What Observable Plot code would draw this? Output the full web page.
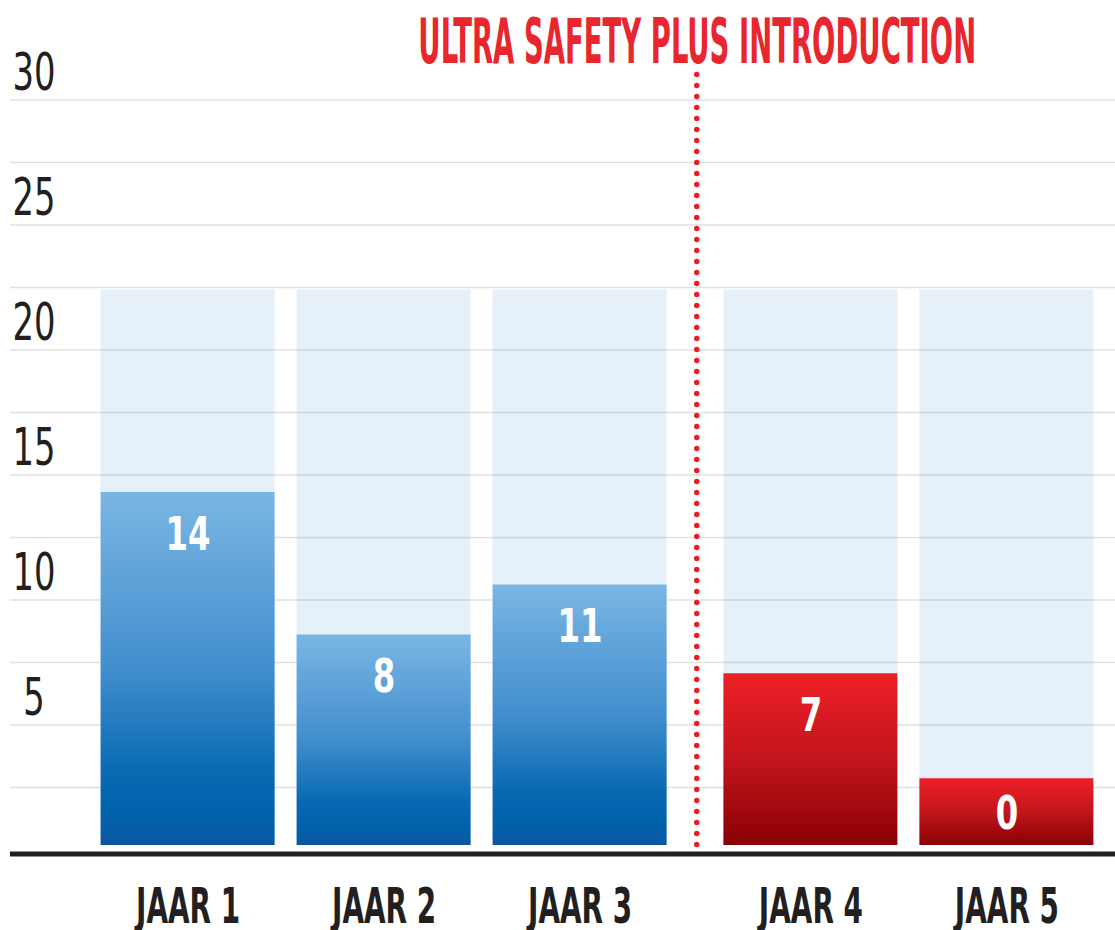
<!DOCTYPE html>
<html>
<head>
<meta charset="utf-8">
<script src="https://cdn.jsdelivr.net/npm/d3@7"></script>
<script src="https://cdn.jsdelivr.net/npm/@observablehq/plot@0.6"></script>
<style>
  body { margin: 0; background: #ffffff; }
  #chart svg { display: block; }
</style>
</head>
<body>
<div id="chart"></div>
<script>
// ---- data ----
const years = ["JAAR 1", "JAAR 2", "JAAR 3", "JAAR 4", "JAAR 5"];
const barHeights = [14.3, 8.6, 10.6, 7.05, 2.85];   // drawn bar heights on the 0–30 axis
const barLabels = ["14", "8", "11", "7", "0"];       // numbers printed inside the bars
const phase = ["before", "before", "before", "after", "after"];
const backgroundHeight = 22.4;                         // pale background columns
const yTickValues = [5, 10, 15, 20, 25, 30];
const gridValues = [2.5, 5, 7.5, 10, 12.5, 15, 17.5, 20, 22.5, 25, 27.5, 30];
const titleText = "ULTRA SAFETY PLUS INTRODUCTION";
const dividerSpan = [0.2, 31.1];

const data = years.map((year, i) => ({year, v: barHeights[i], label: barLabels[i], phase: phase[i], bg: backgroundHeight}));

// ---- layout ----
const W = 1115, H = 930;
const xRange = [94.4, 1099.4];
const pad = 0.1145;
const step = (xRange[1] - xRange[0]) / (years.length + pad);
const shift = 17.4;
const isBefore = d => d.phase === "before";
const isAfter = d => d.phase === "after";

const condensed = `"Liberation Sans Narrow", "Arial Narrow", "DejaVu Sans Condensed", sans-serif`;
const ink = "#231f20";
const FS = {title: 62, xlab: 49, vlab: 47, ylab: 51};

const defs = () => {
  const d = d3.create("svg:defs");
  const blue = d.append("linearGradient").attr("id", "gBlue").attr("x1", 0).attr("y1", 0).attr("x2", 0).attr("y2", 1);
  [[0, "#7ab6e4"], [0.5, "#428ecd"], [0.78, "#0a6bb3"], [0.9, "#0063ac"], [1, "#0b57a0"]]
    .forEach(([o, c]) => blue.append("stop").attr("offset", o).attr("stop-color", c));
  const red = d.append("linearGradient").attr("id", "gRed").attr("x1", 0).attr("y1", 0).attr("x2", 0).attr("y2", 1);
  [[0, "#ee1f27"], [0.5, "#c2151d"], [1, "#8a0004"]]
    .forEach(([o, c]) => red.append("stop").attr("offset", o).attr("stop-color", c));
  return d.node();
};

const labelY = d => Math.max(d.v - 2.28, d.v / 2 - 0.57);

const chart = Plot.plot({
  width: W,
  height: H,
  marginLeft: 10,
  marginRight: 0,
  marginTop: 99.5,
  marginBottom: 80.5,
  x: {domain: years, range: xRange, padding: pad, axis: null},
  y: {domain: [0, 30], axis: null},
  style: {background: "#ffffff"},
  marks: [
    defs,
    // pale background columns
    Plot.barY(data, {x: "year", y: "bg", fill: "#e6f0f9", insetBottom: 4.5, dx: -shift, filter: isBefore}),
    Plot.barY(data, {x: "year", y: "bg", fill: "#e6f0f9", insetBottom: 4.5, dx: shift, filter: isAfter}),
    // grid
    Plot.ruleY(gridValues, {stroke: "#000000", strokeOpacity: 0.12, strokeWidth: 1.6}),
    // bars
    Plot.barY(data, {x: "year", y: "v", fill: "url(#gBlue)", insetBottom: 4.5, dx: -shift, filter: isBefore}),
    Plot.barY(data, {x: "year", y: "v", fill: "url(#gRed)", insetBottom: 4.5, dx: shift, filter: isAfter}),
    // baseline
    Plot.ruleY([0], {stroke: ink, strokeWidth: 5, dy: 4}),
    // dotted divider
    Plot.ruleX(["JAAR 4"], {x: d => d, y1: dividerSpan[0], y2: dividerSpan[1], dx: -step / 2 + 1.5,
      stroke: "#ec1c24", strokeWidth: 5.5, strokeLinecap: "round", strokeDasharray: "0 11"}),
    // title
    Plot.text([titleText], {x: () => "JAAR 4", frameAnchor: "top", text: d => d, dx: -step / 2 + 2, dy: 62 - 99.5,
      lineAnchor: "bottom", textAnchor: "middle", fill: "#e8262d", fontSize: FS.title, fontWeight: "bold",
      fontFamily: condensed}),
    // y labels
    Plot.text(yTickValues, {y: d => d, text: d => String(d), frameAnchor: "left", dx: 23.5, dy: -10.5,
      lineAnchor: "bottom", textAnchor: "middle", fill: ink, fontSize: FS.ylab, fontWeight: "normal",
      fontFamily: condensed}),
    // values inside bars
    Plot.text(data, {x: "year", y: labelY, text: "label", dx: -shift, lineAnchor: "bottom", fill: "#ffffff",
      fontSize: FS.vlab, fontWeight: "bold", fontFamily: condensed, filter: isBefore}),
    Plot.text(data, {x: "year", y: labelY, text: "label", dx: shift, lineAnchor: "bottom", fill: "#ffffff",
      fontSize: FS.vlab, fontWeight: "bold", fontFamily: condensed, filter: isAfter}),
    // x labels
    Plot.text(data, {x: "year", text: "year", frameAnchor: "bottom", dy: 73, dx: -shift, lineAnchor: "bottom",
      fill: ink, fontSize: FS.xlab, fontWeight: "bold", fontFamily: condensed, filter: isBefore}),
    Plot.text(data, {x: "year", text: "year", frameAnchor: "bottom", dy: 73, dx: shift, lineAnchor: "bottom",
      fill: ink, fontSize: FS.xlab, fontWeight: "bold", fontFamily: condensed, filter: isAfter})
  ]
});

document.getElementById("chart").append(chart);

// condense the lettering horizontally to match the narrow display face
function squeeze(size, refText, targetWidth) {
  const texts = [...chart.querySelectorAll("text")].filter(t => {
    const g = t.closest("g[font-size]");
    return g && parseFloat(g.getAttribute("font-size")) === size;
  });
  let f = 1;
  for (const t of texts) if (t.textContent === refText) f = targetWidth / t.getBBox().width;
  for (const t of texts) {
    const x = parseFloat(t.getAttribute("x")) || 0;
    const tr = t.getAttribute("transform") || "";
    t.setAttribute("transform", `${tr} translate(${x},0) scale(${f},1) translate(${-x},0)`);
  }
}
squeeze(FS.title, titleText, 558);
squeeze(FS.xlab, "JAAR 1", 106);
squeeze(FS.vlab, "14", 45);
squeeze(FS.ylab, "30", 43);
</script>
</body>
</html>
